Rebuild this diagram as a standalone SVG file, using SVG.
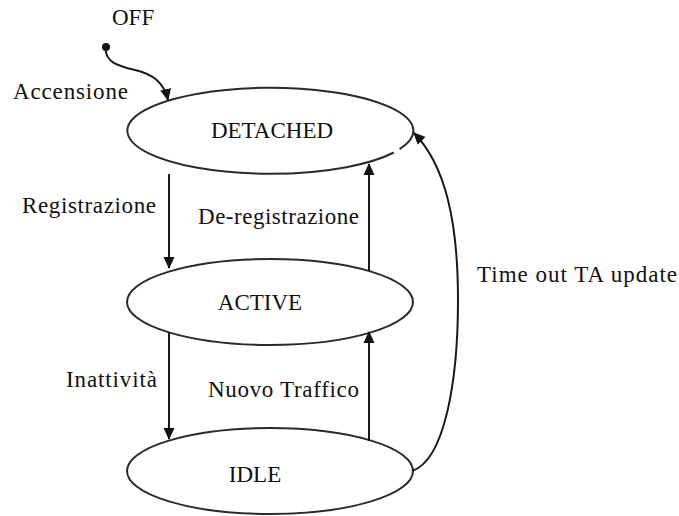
<svg xmlns="http://www.w3.org/2000/svg" width="679" height="516" viewBox="0 0 679 516">
<style>
text{font-family:"Liberation Serif","Times New Roman",serif;font-size:23px;fill:#111}
.st{fill:none;stroke:#2a2a2a;stroke-width:2}
.ln{fill:none;stroke:#1a1a1a;stroke-width:2}
</style>
<defs>
<marker id="ah" viewBox="0 0 12 12" refX="11" refY="6" markerWidth="12" markerHeight="12" markerUnits="userSpaceOnUse" orient="auto">
<path d="M0,0.5 L12,6 L0,11.5 Z" fill="#111"/>
</marker>
</defs>
<rect width="679" height="516" fill="#fff"/>
<g id="off">
<circle cx="106" cy="47" r="4" fill="#111"/>
<text x="112" y="25">OFF</text>
</g>
<g id="detached">
<path class="st" d="M393.8,152.5 A143,43 0 1 1 399.6,149.2"/>
<text x="272" y="138" text-anchor="middle">DETACHED</text>
</g>
<g id="active">
<ellipse class="st" cx="270" cy="302" rx="143" ry="43"/>
<text x="260" y="310" text-anchor="middle">ACTIVE</text>
</g>
<g id="idle">
<ellipse class="st" cx="270" cy="471" rx="143" ry="43"/>
<text x="255" y="482" text-anchor="middle">IDLE</text>
</g>
<g id="connectors">
<path class="ln" d="M106,47 C104,62 118,66 135,70 C152,74 164,82 168,100" marker-end="url(#ah)"/>
<path class="ln" d="M169,174 L169,268" marker-end="url(#ah)"/>
<path class="ln" d="M369,271 L369,164" marker-end="url(#ah)"/>
<path class="ln" d="M169,332 L169,439" marker-end="url(#ah)"/>
<path class="ln" d="M369,441 L369,332" marker-end="url(#ah)"/>
<path class="ln" d="M412,471 C445,460 458,380 458,300 C458,220 445,165 414,133" marker-end="url(#ah)"/>
</g>
<g id="labels">
<text x="13" y="99" textLength="115" lengthAdjust="spacing">Accensione</text>
<text x="22" y="213" textLength="134" lengthAdjust="spacing">Registrazione</text>
<text x="198" y="224" textLength="161" lengthAdjust="spacing">De-registrazione</text>
<text x="66" y="387" textLength="91" lengthAdjust="spacing">Inattività</text>
<text x="208" y="397" textLength="151" lengthAdjust="spacing">Nuovo Traffico</text>
<text x="477" y="282" textLength="200" lengthAdjust="spacing">Time out TA update</text>
</g>
</svg>
